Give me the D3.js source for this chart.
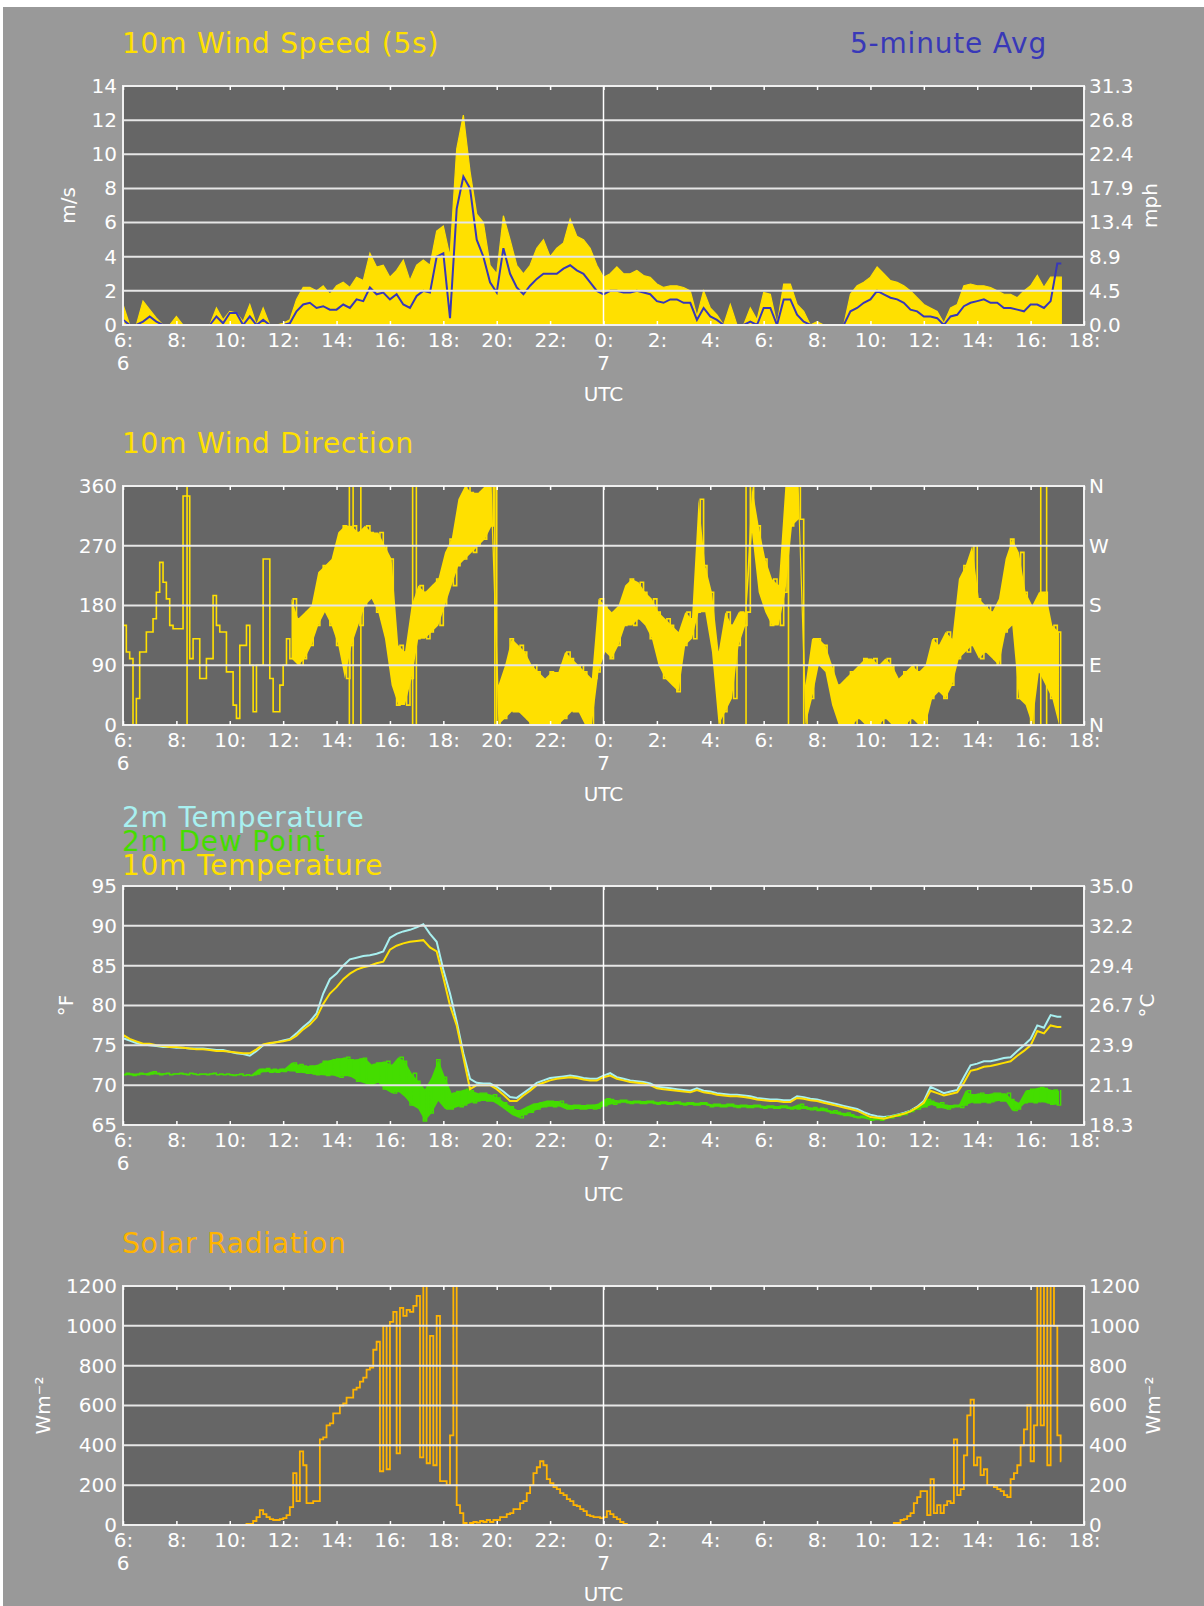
<!DOCTYPE html>
<html>
<head>
<meta charset="utf-8">
<title>Surface meteorology</title>
<script src="https://cdn.jsdelivr.net/npm/d3@7/dist/d3.min.js"></script>
<style>
  body { margin: 0; background: #ffffff; }
  svg { display: block; }
  text { font-family: 'DejaVu Sans', sans-serif; }
</style>
</head>
<body>
<svg id="chart"></svg>
<script>
'use strict';

// time is hours since 00 UTC on the 6th, one sample every 15 minutes from 06:00 on the 6th
var START_HOUR = 6,
  STEP = 0.25,
  DATA_END = 41.15;

var HOUR_TICKS = [6, 8, 10, 12, 14, 16, 18, 20, 22, 24, 26, 28, 30, 32, 34, 36, 38, 40, 42];
var DAY_TICKS = [6, 24];
var DAY_LABELS = ['6', '7'];

var SPEED_TICKS = [0, 2, 4, 6, 8, 10, 12, 14];
var MPH_LABELS = ['0.0', '4.5', '8.9', '13.4', '17.9', '22.4', '26.8', '31.3'];
var DIR_TICKS = [0, 90, 180, 270, 360];
var COMPASS_LABELS = ['N', 'E', 'S', 'W', 'N'];
var TEMP_TICKS = [65, 70, 75, 80, 85, 90, 95];
var CELSIUS_LABELS = ['18.3', '21.1', '23.9', '26.7', '29.4', '32.2', '35.0'];
var SOLAR_TICKS = [0, 200, 400, 600, 800, 1000, 1200];

// 10m wind speed, m/s: highest 5 s value and 5-minute mean in each 15 minutes
var WIND_GUST = [
  1.2, 0, 0, 1.4,   0.9, 0.4, 0, 0,   0.5, 0, 0, 0,   0, 0, 1.0, 0.3,   0.8, 0.7, 0.2, 1.2,   0, 1.0, 0, 0,
  0.1, 0.3, 1.5, 2.2,   2.2, 2.0, 2.3, 1.8,   2.3, 2.5, 2.2, 2.8,   2.6, 4.2, 3.4, 3.5,   2.8, 3.2, 3.8, 2.6,   3.5, 3.8, 3.5, 5.5,
  5.8, 4.0, 10.3, 12.3,   9.0, 6.5, 6.0, 3.5,   3.0, 6.4, 5.0, 3.5,   3.0, 3.5, 4.5, 5.0,   4.0, 4.5, 4.8, 6.2,   5.2, 5.0, 4.5, 3.5,
  2.8, 3.0, 3.4, 3.0,   3.0, 3.2, 2.9, 2.8,   2.4, 2.2, 2.3, 2.3,   2.2, 2.0, 0.5, 2.0,   1.0, 0.6, 0, 1.2,   0, 0, 1.0, 0.3,
  1.9, 1.8, 0, 2.4,   2.4, 1.2, 0.8, 0,   0.2, 0, 0, 0,   0, 1.8, 2.3, 2.5,   2.8, 3.4, 3.0, 2.6,   2.5, 2.3, 2.0, 1.6,
  1.2, 1.0, 0.8, 0.1,   1.0, 1.2, 2.3, 2.4,   2.3, 2.3, 2.2, 2.0,   1.8, 1.8, 1.6, 2.0,   2.3, 2.9, 2.2, 2.8,
  2.8
];
var WIND_AVG = [
  0.3, 0, 0, 0.2,   0.5, 0.2, 0, 0,   0, 0, 0, 0,   0, 0, 0.5, 0.1,   0.7, 0.7, 0, 0.5,   0, 0.3, 0, 0,
  0, 0.1, 0.8, 1.2,   1.3, 1.0, 1.1, 0.9,   0.9, 1.2, 1.0, 1.5,   1.4, 2.2, 1.8, 1.9,   1.5, 1.8, 1.2, 1.0,   1.7, 2.0, 1.9, 4.0,
  4.2, 0.4, 6.8, 8.7,   8.0, 5.0, 4.0, 2.5,   1.9, 4.5, 3.0, 2.2,   1.8, 2.3, 2.7, 3.0,   3.0, 3.0, 3.3, 3.5,   3.2, 3.0, 2.5, 2.0,
  1.8, 2.0, 2.0, 1.9,   1.9, 2.0, 1.9, 1.8,   1.4, 1.3, 1.5, 1.5,   1.3, 1.3, 0.3, 1.0,   0.5, 0.3, 0, 0,   0, 0, 0.2, 0,
  1.0, 1.0, 0, 1.5,   1.5, 0.6, 0.2, 0,   0, 0, 0, 0,   0, 0.8, 1.0, 1.3,   1.5, 2.0, 1.8, 1.6,   1.5, 1.3, 0.9, 0.8,
  0.5, 0.5, 0.4, 0,   0.5, 0.6, 1.1, 1.3,   1.4, 1.5, 1.3, 1.3,   1.0, 1.0, 0.9, 0.8,   1.2, 1.2, 1.0, 1.4,
  3.6
];

// 10m wind direction, degrees: first and second half of each 15 minutes
var WIND_DIR = [
  [150, 110], [100, 0], [40, 110], [110, 140],   [140, 160], [200, 245], [215, 190], [150, 145],
  [145, 145], [345, 345], [100, 130], [130, 70],   [70, 100], [100, 195], [150, 140], [140, 80],
  [80, 30], [10, 120], [120, 150], [90, 20],   [90, 90], [250, 250], [70, 20], [20, 60],
  [90, 130], [100, 190], [160, 90], [100, 170],   [120, 180], [150, 230], [240, 170], [150, 250],
  [120, 290], [300, 70], [120, 300], [290, 150],   [180, 300], [290, 190], [170, 290], [270, 130],
  [250, 60], [30, 120], [110, 30], [70, 180],   [130, 210], [200, 130], [140, 210], [220, 150],
  [180, 260], [280, 210], [240, 340], [250, 360],   [350, 260], [270, 350], [280, 360], [300, 360],
  [0, 60], [10, 90], [130, 20], [20, 120],   [110, 10], [0, 90], [80, 0], [0, 70],
  [80, 0], [0, 80], [10, 110], [100, 20],   [20, 90], [80, 0], [0, 70], [80, 190],
  [180, 110], [100, 170], [120, 180], [150, 210],   [220, 150], [160, 215], [200, 150], [130, 190],
  [170, 90], [70, 160], [150, 60], [50, 140],   [120, 170], [160, 130], [170, 340], [240, 170],
  [200, 110], [110, 0], [20, 170], [150, 40],   [120, 170], [150, 170], [360, 290], [300, 200],
  [250, 170], [150, 220], [210, 150], [200, 360],   [300, 360], [360, 310], [0, 60], [40, 130],
  [130, 90], [120, 80], [90, 30], [60, 0],   [0, 70], [80, 0], [10, 90], [100, 0],
  [0, 100], [90, 0], [10, 100], [90, 0],   [0, 70], [80, 0], [10, 90], [80, 0],
  [0, 90], [40, 130], [120, 50], [40, 140],   [60, 130], [100, 220], [240, 110], [120, 270],
  [190, 100], [110, 180], [170, 100], [90, 190],   [140, 250], [280, 150], [40, 260], [200, 30],
  [0, 180], [80, 200], [200, 60], [40, 150],
  [140, 0]
];
// moments when the direction trace crosses north (full-height strokes)
var WIND_DIR_WRAPS = [8.4, 14.48, 14.62, 14.91, 16.85, 16.99, 19.93, 29.34, 30.93, 40.38, 40.6];
var WIND_DIR_NOISY_FROM = 12.25;

// temperatures, deg F
var TEMP_2M = [
  75.9, 75.6, 75.3, 75.1,   75.0, 74.9, 74.8, 74.8,   74.7, 74.7, 74.6, 74.6,   74.6, 74.5, 74.4, 74.4,   74.2, 74.0, 73.9, 73.7,   74.3, 75.0, 75.2, 75.4,
  75.6, 75.8, 76.5, 77.3,   78.0, 79.0, 81.5, 83.3,   84.0, 85.0, 85.8, 86.0,   86.2, 86.3, 86.5, 86.8,   88.5, 89.0, 89.3, 89.5,   89.8, 90.2, 89.0, 88.0,
  84.5, 81.5, 78.0, 74.0,   70.8, 70.3, 70.2, 70.2,   69.8, 69.2, 68.5, 68.4,   69.0, 69.6, 70.3, 70.6,   70.9, 71.0, 71.1, 71.2,   71.1, 70.9, 70.8, 70.8,
  71.2, 71.5, 71.0, 70.8,   70.6, 70.5, 70.4, 70.2,   69.8, 69.7, 69.6, 69.5,   69.4, 69.3, 69.6, 69.3,   69.2, 69.0, 68.9, 68.8,   68.8, 68.7, 68.6, 68.4,
  68.3, 68.2, 68.2, 68.1,   68.1, 68.6, 68.5, 68.3,   68.2, 68.0, 67.8, 67.6,   67.4, 67.2, 67.0, 66.6,   66.3, 66.1, 66.0, 66.1,   66.3, 66.5, 66.8, 67.3,
  68.0, 69.8, 69.4, 69.0,   69.2, 69.4, 71.0, 72.5,   72.7, 73.0, 73.0, 73.2,   73.4, 73.5, 74.3, 75.0,   75.8, 77.5, 77.2, 78.8,
  78.6
];
var TEMP_10M = [
  76.3, 75.8, 75.5, 75.2,   75.2, 75.0, 74.9, 74.8,   74.8, 74.7, 74.6, 74.5,   74.5, 74.4, 74.3, 74.3,   74.2, 74.1, 74.0, 74.0,   74.5, 75.1, 75.3, 75.4,
  75.5, 75.7, 76.2, 77.0,   77.6, 78.5, 80.2, 81.5,   82.3, 83.3, 84.0, 84.5,   84.8, 85.0, 85.3, 85.5,   87.0, 87.5, 87.8, 88.0,   88.1, 88.2, 87.3, 86.8,
  83.5, 80.0, 77.5, 73.5,   69.5, 70.0, 70.0, 70.0,   69.5, 68.8, 68.0, 68.0,   68.7, 69.3, 70.0, 70.3,   70.6, 70.8, 70.9, 71.0,   70.9, 70.7, 70.6, 70.6,
  71.0, 71.2, 70.8, 70.6,   70.4, 70.3, 70.2, 70.0,   69.6, 69.5, 69.4, 69.3,   69.2, 69.1, 69.4, 69.1,   69.0, 68.8, 68.7, 68.6,   68.6, 68.5, 68.4, 68.2,
  68.1, 68.0, 68.0, 67.9,   67.9, 68.4, 68.3, 68.1,   68.0, 67.8, 67.6, 67.4,   67.2, 67.0, 66.8, 66.4,   66.0, 65.9, 65.8, 66.0,   66.2, 66.4, 66.7, 67.2,
  67.8, 69.3, 69.0, 68.7,   68.9, 69.1, 70.3, 71.8,   72.0, 72.3, 72.4, 72.6,   72.8, 73.0, 73.7, 74.3,   75.0, 76.8, 76.5, 77.5,
  77.3
];
// 2m dew point, deg F: first and second half of each 15 minutes
var DEW_POINT = [
  [71.3, 71.5], [71.4, 71.2], [71.3, 71.5], [71.4, 71.3],   [71.4, 71.7], [71.5, 71.3], [71.4, 71.5], [71.3, 71.4],
  [71.4, 71.5], [71.4, 71.3], [71.5, 71.4], [71.3, 71.4],   [71.4, 71.3], [71.4, 71.5], [71.3, 71.4], [71.3, 71.4],
  [71.3, 71.2], [71.3, 71.4], [71.2, 71.3], [71.2, 71.3],   [71.4, 72.0], [71.7, 72.1], [71.6, 72.0], [71.6, 72.0],
  [71.7, 72.1], [71.8, 72.8], [71.6, 72.6], [72.4, 71.5],   [72.4, 71.4], [71.3, 72.6], [73.0, 71.2], [71.3, 73.2],
  [73.3, 71.0], [71.2, 73.5], [73.2, 71.0], [70.5, 73.3],   [73.4, 70.2], [70.0, 72.6], [72.8, 70.3], [69.5, 73.0],
  [72.5, 69.0], [69.2, 73.5], [73.0, 68.5], [67.5, 71.5],   [70.5, 67.0], [65.5, 69.5], [66.5, 71.0], [73.2, 68.0],
  [71.0, 67.0], [67.0, 69.0], [69.2, 67.3], [67.5, 69.5],   [69.3, 67.8], [68.0, 69.0], [69.0, 68.0], [68.0, 68.8],
  [68.4, 67.5], [67.8, 66.9], [67.3, 66.3], [66.8, 65.9],   [66.3, 67.2], [66.6, 67.6], [67.0, 67.8], [67.3, 68.0],
  [68.0, 67.3], [67.4, 68.0], [67.6, 67.0], [67.0, 67.5],   [67.5, 67.0], [67.0, 67.5], [67.5, 67.0], [67.1, 67.7],
  [67.4, 68.3], [68.2, 67.6], [67.8, 68.1], [68.1, 67.8],   [67.7, 68.0], [68.0, 67.7], [67.7, 68.0], [68.0, 67.7],
  [67.6, 67.9], [67.9, 67.6], [67.6, 67.9], [67.9, 67.6],   [67.5, 67.8], [67.8, 67.5], [67.5, 67.8], [67.8, 67.5],
  [67.3, 67.6], [67.6, 67.3], [67.3, 67.6], [67.6, 67.3],   [67.2, 67.5], [67.5, 67.2], [67.2, 67.5], [67.5, 67.2],
  [67.1, 67.4], [67.4, 67.1], [67.1, 67.4], [67.4, 67.1],   [67.0, 67.3], [67.0, 67.6], [67.3, 67.0], [66.9, 67.2],
  [66.8, 67.1], [67.0, 66.7], [66.5, 66.8], [66.6, 66.3],   [66.2, 66.5], [66.3, 66.0], [65.9, 66.1], [66.0, 65.8],
  [65.6, 65.8], [65.8, 65.6], [65.8, 66.0], [65.9, 66.2],   [66.1, 66.4], [66.3, 66.6], [66.7, 67.0], [67.0, 67.3],
  [67.3, 68.2], [68.0, 67.5], [67.2, 67.8], [67.5, 67.0],   [67.2, 67.5], [67.5, 67.2], [67.5, 69.3], [68.8, 67.8],
  [67.8, 69.0], [68.8, 67.8], [67.9, 69.0], [69.0, 68.0],   [68.0, 69.0], [68.2, 66.8], [67.0, 67.8], [67.8, 69.3],
  [69.5, 67.8], [67.9, 69.7], [69.6, 67.8], [67.6, 69.4],
  [67.5, 69.3]
];

// solar radiation, W/m2: first and second half of each 15 minutes
var SOLAR = [
  [0, 0], [0, 0], [0, 0], [0, 0],   [0, 0], [0, 0], [0, 0], [0, 0],
  [0, 0], [0, 0], [0, 0], [0, 0],   [0, 0], [0, 0], [0, 0], [0, 0],
  [0, 0], [0, 0], [0, 5], [5, 20],   [40, 75], [55, 40], [30, 25], [25, 30],
  [35, 50], [90, 260], [120, 370], [300, 110],   [110, 120], [120, 430], [440, 500], [510, 560],
  [560, 600], [610, 640], [640, 680], [690, 720],   [740, 780], [790, 880], [920, 270], [1000, 280],
  [1020, 1070], [360, 1090], [1050, 1080], [1070, 1100],   [1150, 340], [1200, 310], [950, 300], [1050, 220],
  [220, 200], [450, 1200], [100, 60], [10, 0],   [10, 15], [12, 20], [15, 25], [15, 25],
  [25, 40], [40, 55], [60, 80], [80, 110],   [120, 160], [200, 260], [290, 320], [300, 230],
  [210, 190], [180, 160], [150, 130], [120, 100],   [95, 80], [70, 50], [45, 40], [40, 35],
  [40, 70], [55, 40], [30, 15], [5, 0],   [0, 0], [0, 0], [0, 0], [0, 0],
  [0, 0], [0, 0], [0, 0], [0, 0],   [0, 0], [0, 0], [0, 0], [0, 0],
  [0, 0], [0, 0], [0, 0], [0, 0],   [0, 0], [0, 0], [0, 0], [0, 0],
  [0, 0], [0, 0], [0, 0], [0, 0],   [0, 0], [0, 0], [0, 0], [0, 0],
  [0, 0], [0, 0], [0, 0], [0, 0],   [0, 0], [0, 0], [0, 0], [0, 0],
  [0, 0], [0, 0], [0, 0], [0, 10],   [10, 25], [30, 45], [60, 110], [140, 170],
  [170, 50], [230, 60], [100, 60], [100, 120],   [110, 430], [150, 180], [350, 550], [630, 300],
  [340, 250], [280, 200], [200, 190], [180, 170],   [150, 140], [230, 260], [300, 400], [480, 600],
  [320, 500], [1200, 500], [1200, 300], [1200, 1000],
  [450, 320]
];

var COLORS = {
  page: '#999999',
  plot: '#666666',
  grid: '#e6e6e6',
  text: '#ffffff',
  yellow: '#ffe000',
  blue: '#3838b8',
  cyan: '#a8f0f0',
  green: '#44dd00',
  orange: '#ffb400'
};

var WIDTH = 1204,
  HEIGHT = 1606,
  PLOT = { left: 123, right: 1084, top: 86, height: 239, step: 400 };

var svg = d3.select('#chart')
  .attr('width', WIDTH)
  .attr('height', HEIGHT);

svg.append('rect')
  .attr('x', 3)
  .attr('y', 7)
  .attr('width', WIDTH - 3)
  .attr('height', HEIGHT - 7)
  .attr('fill', COLORS.page);

var xScale = d3.scaleLinear()
  .domain([6, 42])
  .range([PLOT.left, PLOT.right]);

function hourAt(i) { return START_HOUR + i * STEP; }

function linePath(yScale, values) {
  var pts = values.map(function(v, i) { return [hourAt(i), v]; });
  pts.push([DATA_END, values[values.length - 1]]);
  return d3.line()
    .x(function(d) { return xScale(d[0]); })
    .y(function(d) { return yScale(d[1]); })(pts);
}

// two readings per bin, drawn as a trace that jumps between them
function pairPath(yScale, pairs) {
  var pts = [];
  pairs.forEach(function(p, i) {
    pts.push([hourAt(i), p[0]]);
    pts.push([hourAt(i) + STEP / 2, p[1]]);
  });
  pts.push([DATA_END, pairs[pairs.length - 1][1]]);
  return d3.line()
    .x(function(d) { return xScale(d[0]); })
    .y(function(d) { return yScale(d[1]); })
    .curve(d3.curveStepAfter)(pts);
}

// envelope of the two readings, filled
function bandPath(yScale, pairs, fromHour) {
  var pts = pairs.map(function(p, i) {
    return [hourAt(i) + STEP / 4, Math.min(p[0], p[1]), Math.max(p[0], p[1])];
  });
  return d3.area()
    .defined(function(d) { return d[0] >= fromHour; })
    .x(function(d) { return xScale(d[0]); })
    .y0(function(d) { return yScale(d[1]); })
    .y1(function(d) { return yScale(d[2]); })(pts);
}

function drawSpeed(layer, yScale) {
  var pts = WIND_GUST.map(function(v, i) { return [hourAt(i), v]; });
  pts.push([DATA_END, WIND_GUST[WIND_GUST.length - 1]]);

  layer.append('path')
    .attr('d', d3.area()
      .x(function(d) { return xScale(d[0]); })
      .y0(yScale(0))
      .y1(function(d) { return yScale(d[1]); })(pts))
    .attr('fill', COLORS.yellow)
    .attr('stroke', COLORS.yellow)
    .attr('stroke-width', 1.2);

  layer.append('path')
    .attr('d', linePath(yScale, WIND_AVG))
    .attr('fill', 'none')
    .attr('stroke', COLORS.blue)
    .attr('stroke-width', 2);
}

function drawDirection(layer, yScale) {
  layer.append('path')
    .attr('d', bandPath(yScale, WIND_DIR, WIND_DIR_NOISY_FROM))
    .attr('fill', COLORS.yellow);

  layer.append('path')
    .attr('d', pairPath(yScale, WIND_DIR))
    .attr('fill', 'none')
    .attr('stroke', COLORS.yellow)
    .attr('stroke-width', 1.6);

  layer.selectAll('.wrap')
    .data(WIND_DIR_WRAPS)
    .enter().append('line')
    .attr('class', 'wrap')
    .attr('x1', function(d) { return xScale(d); })
    .attr('x2', function(d) { return xScale(d); })
    .attr('y1', yScale(0))
    .attr('y2', yScale(360))
    .attr('stroke', COLORS.yellow)
    .attr('stroke-width', 1.6);
}

function drawTemperature(layer, yScale) {
  layer.append('path')
    .attr('d', linePath(yScale, TEMP_2M))
    .attr('fill', 'none')
    .attr('stroke', COLORS.cyan)
    .attr('stroke-width', 2);

  layer.append('path')
    .attr('d', bandPath(yScale, DEW_POINT, START_HOUR))
    .attr('fill', COLORS.green);

  layer.append('path')
    .attr('d', pairPath(yScale, DEW_POINT))
    .attr('fill', 'none')
    .attr('stroke', COLORS.green)
    .attr('stroke-width', 1.4);

  layer.append('path')
    .attr('d', linePath(yScale, TEMP_10M))
    .attr('fill', 'none')
    .attr('stroke', COLORS.yellow)
    .attr('stroke-width', 2);
}

function drawSolar(layer, yScale) {
  layer.append('path')
    .attr('d', pairPath(yScale, SOLAR))
    .attr('fill', 'none')
    .attr('stroke', COLORS.orange)
    .attr('stroke-width', 1.8);
}

var panels = [
  {
    domain: [0, 14], ticks: SPEED_TICKS, right: MPH_LABELS,
    leftTitle: 'm/s', leftX: 68, rightTitle: 'mph', rightX: 1150,
    titles: [
      { text: '10m Wind Speed (5s)', color: COLORS.yellow, x: 122, y: 53, anchor: 'start' },
      { text: '5-minute Avg', color: COLORS.blue, x: 1047, y: 53, anchor: 'end' }
    ],
    draw: drawSpeed
  },
  {
    domain: [0, 360], ticks: DIR_TICKS, right: COMPASS_LABELS,
    titles: [
      { text: '10m Wind Direction', color: COLORS.yellow, x: 122, y: 453, anchor: 'start' }
    ],
    draw: drawDirection
  },
  {
    domain: [65, 95], ticks: TEMP_TICKS, right: CELSIUS_LABELS,
    leftTitle: '\u00b0F', leftX: 66, rightTitle: '\u00b0C', rightX: 1147,
    titles: [
      { text: '2m Temperature', color: COLORS.cyan, x: 122, y: 827, anchor: 'start' },
      { text: '2m Dew Point', color: COLORS.green, x: 122, y: 851, anchor: 'start' },
      { text: '10m Temperature', color: COLORS.yellow, x: 122, y: 875, anchor: 'start' }
    ],
    draw: drawTemperature
  },
  {
    domain: [0, 1200], ticks: SOLAR_TICKS, right: SOLAR_TICKS.map(String),
    leftTitle: 'Wm\u207b\u00b2', leftX: 43, rightTitle: 'Wm\u207b\u00b2', rightX: 1153,
    titles: [
      { text: 'Solar Radiation', color: COLORS.orange, x: 122, y: 1253, anchor: 'start' }
    ],
    draw: drawSolar
  }
];

function styleAxis(sel) {
  sel.attr('font-family', null).attr('font-size', 20);
  sel.select('.domain').remove();
  sel.selectAll('text').attr('fill', COLORS.text);
  sel.selectAll('line').attr('stroke', COLORS.text).attr('stroke-width', 1.5);
}

panels.forEach(function(p, i) {
  var top = PLOT.top + i * PLOT.step,
    bottom = top + PLOT.height,
    width = PLOT.right - PLOT.left;

  var yScale = d3.scaleLinear()
    .domain(p.domain)
    .range([bottom, top]);

  var g = svg.append('g').attr('class', 'panel');

  g.append('rect')
    .attr('x', PLOT.left)
    .attr('y', top)
    .attr('width', width)
    .attr('height', PLOT.height)
    .attr('fill', COLORS.plot);

  g.append('clipPath')
    .attr('id', 'clip' + i)
    .append('rect')
    .attr('x', PLOT.left)
    .attr('y', top)
    .attr('width', width)
    .attr('height', PLOT.height);

  p.draw(g.append('g').attr('clip-path', 'url(#clip' + i + ')'), yScale);

  // grid lines sit on top of the data
  g.selectAll('.grid')
    .data(p.ticks.slice(1, -1))
    .enter().append('line')
    .attr('class', 'grid')
    .attr('x1', PLOT.left)
    .attr('x2', PLOT.right)
    .attr('y1', function(d) { return yScale(d); })
    .attr('y2', function(d) { return yScale(d); })
    .attr('stroke', COLORS.grid)
    .attr('stroke-width', 2);

  g.append('line')
    .attr('x1', xScale(24))
    .attr('x2', xScale(24))
    .attr('y1', top)
    .attr('y2', bottom)
    .attr('stroke', COLORS.text)
    .attr('stroke-width', 1.5);

  g.append('rect')
    .attr('x', PLOT.left)
    .attr('y', top)
    .attr('width', width)
    .attr('height', PLOT.height)
    .attr('fill', 'none')
    .attr('stroke', '#f0f0f0')
    .attr('stroke-width', 2);

  g.append('g')
    .attr('transform', 'translate(' + PLOT.left + ',0)')
    .call(d3.axisLeft(yScale).tickValues(p.ticks).tickSize(0).tickPadding(6).tickFormat(d3.format('d')))
    .call(styleAxis);

  g.append('g')
    .attr('transform', 'translate(' + PLOT.right + ',0)')
    .call(d3.axisRight(yScale).tickValues(p.ticks).tickSize(0).tickPadding(5)
      .tickFormat(function(d, j) { return p.right[j]; }))
    .call(styleAxis);

  g.append('g')
    .attr('transform', 'translate(0,' + top + ')')
    .call(d3.axisTop(xScale).tickValues(HOUR_TICKS).tickSizeInner(-4).tickSizeOuter(0).tickFormat(''))
    .call(styleAxis);

  g.append('g')
    .attr('transform', 'translate(0,' + bottom + ')')
    .call(d3.axisBottom(xScale).tickValues(HOUR_TICKS).tickSizeInner(-4).tickSizeOuter(0).tickPadding(8)
      .tickFormat(function(h) { return (h % 24) + ':'; }))
    .call(styleAxis);

  g.selectAll('.day')
    .data(DAY_TICKS)
    .enter().append('text')
    .attr('class', 'day')
    .attr('x', function(d) { return xScale(d); })
    .attr('y', bottom + 45)
    .attr('text-anchor', 'middle')
    .attr('font-size', 20)
    .attr('fill', COLORS.text)
    .text(function(d, j) { return DAY_LABELS[j]; });

  g.append('text')
    .attr('x', (PLOT.left + PLOT.right) / 2)
    .attr('y', bottom + 76)
    .attr('text-anchor', 'middle')
    .attr('font-size', 20)
    .attr('fill', COLORS.text)
    .text('UTC');

  [[p.leftTitle, p.leftX], [p.rightTitle, p.rightX]].forEach(function(t) {
    if (!t[0]) return;
    g.append('text')
      .attr('transform', 'translate(' + t[1] + ',' + (top + PLOT.height / 2) + ') rotate(-90)')
      .attr('text-anchor', 'middle')
      .attr('dy', '0.35em')
      .attr('font-size', 20)
      .attr('fill', COLORS.text)
      .text(t[0]);
  });

  g.selectAll('.title')
    .data(p.titles)
    .enter().append('text')
    .attr('class', 'title')
    .attr('x', function(d) { return d.x; })
    .attr('y', function(d) { return d.y; })
    .attr('text-anchor', function(d) { return d.anchor; })
    .attr('font-size', 28)
    .attr('letter-spacing', 0.8)
    .attr('fill', function(d) { return d.color; })
    .text(function(d) { return d.text; });
});
</script>
</body>
</html>
